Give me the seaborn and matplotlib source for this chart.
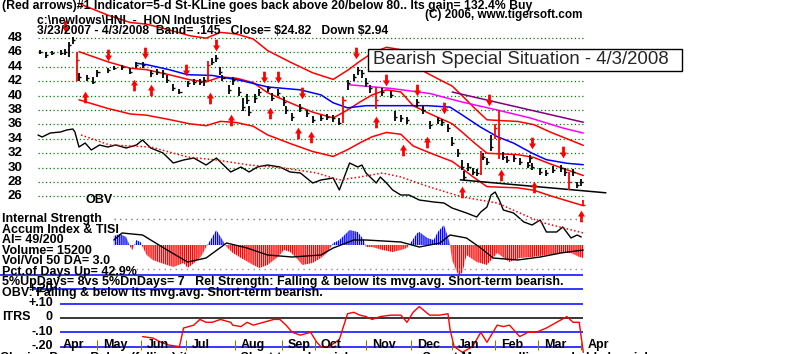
import numpy as np
import matplotlib
matplotlib.use("Agg")
import matplotlib.pyplot as plt
import seaborn as sns
from matplotlib.path import Path
from matplotlib.patches import Rectangle

sns.set_theme(style="white")
plt.rcParams["font.family"] = ["Liberation Sans", "DejaVu Sans"]
plt.rcParams["hatch.linewidth"] = 1.0

# ---- data (x = trading day since 3/23/2007) ----
price_day = [1, 4, 7, 11, 13, 15, 17, 19, 20, 24, 27, 29, 34, 37, 41, 45, 48, 51, 55, 58,
             61, 63, 66, 69, 73, 76, 79, 81, 83, 85, 87, 89, 90, 93, 95, 98, 100, 102, 103, 106,
             108, 112, 114, 117, 120, 121, 124, 128, 131, 134, 138, 141, 144, 147, 149, 151, 154, 156, 158, 160,
             162, 165, 168, 172, 174, 177, 180, 185, 188, 191, 195, 197, 200, 202, 205, 207, 208, 210, 212, 214,
             216, 217, 219, 221, 223, 225, 227, 229, 232, 235, 239, 240, 241, 245, 248, 251, 255, 257, 259, 261,
             263, 265, 266]
close = [46.1, 45.6, 45.9, 45.9, 46.1, 47.0, 47.7, 45.0, 42.6, 42.4, 41.9, 43.3, 43.6, 43.8, 44.0, 43.3, 44.3, 44.3, 43.1, 43.3,
         43.1, 42.2, 41.0, 40.5, 41.7, 41.9, 41.9, 42.2, 44.3, 44.7, 45.2, 43.3, 42.4, 40.8, 42.2, 40.5, 38.4, 39.4, 37.7, 39.7,
         40.5, 41.0, 39.7, 40.4, 39.1, 38.0, 37.0, 38.3, 37.6, 36.6, 36.9, 37.0, 36.9, 36.2, 39.4, 41.7, 42.6, 43.6, 43.1, 41.7,
         41.0, 39.4, 40.5, 40.1, 37.0, 36.9, 36.6, 39.1, 38.0, 35.9, 36.6, 36.3, 35.5, 33.4, 32.0, 30.1, 28.7, 30.1, 29.4, 29.2,
         31.7, 31.5, 30.8, 32.9, 35.5, 34.1, 31.5, 31.1, 31.3, 30.8, 30.4, 31.3, 30.1, 29.4, 29.2, 29.7, 29.9, 29.4, 28.0, 29.4,
         27.6, 28.0, 24.82]
high = [46.4, 46.0, 46.2, 46.3, 46.5, 47.4, 48.2, 46.0, 43.2, 42.8, 42.6, 43.6, 43.9, 44.1, 44.3, 43.8, 44.6, 44.6, 43.6, 43.7,
        43.5, 42.8, 41.6, 40.9, 42.0, 42.3, 42.3, 42.6, 44.8, 45.2, 45.6, 44.0, 42.9, 41.5, 42.6, 41.2, 39.6, 40.2, 38.5, 40.2,
        40.9, 41.4, 40.3, 40.9, 39.8, 38.6, 37.6, 38.8, 38.0, 37.1, 37.3, 37.4, 37.3, 36.9, 39.8, 42.2, 43.0, 44.0, 43.6, 42.4,
        41.5, 41.2, 41.0, 40.6, 37.8, 37.3, 37.0, 39.5, 38.6, 36.5, 37.0, 36.8, 36.1, 34.2, 32.6, 31.0, 29.5, 30.6, 30.0, 29.8,
        32.3, 32.0, 31.4, 34.5, 36.0, 38.0, 32.2, 31.6, 31.8, 31.3, 30.8, 31.8, 30.6, 29.9, 29.7, 30.2, 30.4, 29.9, 29.4, 29.8,
        28.0, 28.4, 25.5]
low = [45.8, 45.2, 45.6, 45.6, 45.6, 45.4, 47.2, 42.0, 42.0, 42.0, 41.6, 42.6, 43.2, 43.5, 43.6, 43.0, 43.9, 43.8, 42.6, 42.8,
       42.5, 41.8, 40.6, 40.2, 41.2, 41.5, 41.5, 41.4, 42.0, 44.2, 44.6, 42.8, 42.0, 40.2, 41.5, 40.0, 37.8, 38.8, 37.2, 39.0,
       40.0, 40.5, 39.2, 39.9, 38.5, 37.5, 36.5, 37.7, 37.0, 36.2, 36.5, 36.6, 36.4, 35.9, 36.2, 40.8, 42.0, 42.9, 42.5, 41.2,
       40.4, 38.2, 40.0, 39.6, 36.5, 36.4, 36.0, 38.4, 37.5, 35.4, 36.1, 35.8, 35.0, 33.0, 31.5, 29.6, 28.3, 29.5, 29.0, 28.8,
       29.0, 31.0, 30.3, 32.3, 34.0, 31.2, 31.0, 30.6, 30.8, 30.3, 30.0, 30.6, 29.7, 29.0, 28.8, 29.2, 29.4, 28.9, 26.9, 28.9,
       27.2, 27.5, 24.7]
signal_days = [19, 83, 149, 165, 216, 223, 225, 259, 266]

band_width = 0.145
ma21_day = [20, 34, 45, 53, 64, 74, 82, 89, 97, 105, 112, 123, 134, 144, 151, 157, 163, 170, 177,
            183, 191, 198, 202, 207, 213, 219, 226, 234, 242, 250, 258, 266]
ma21 = [46.1, 44.7, 43.8, 43.6, 42.9, 42.2, 41.9, 42.6, 42.4, 41.8, 40.4, 39.0, 37.7, 36.9, 38.0, 39.1, 40.1, 40.8, 40.5,
        38.6, 37.5, 36.6, 36.1, 34.9, 33.4, 32.0, 31.9, 31.8, 31.4, 30.5, 29.7, 28.9]

ma50_day = [48, 53, 64, 73, 85, 99, 112, 128, 138, 144, 151, 160, 177, 190, 201, 207, 216, 224, 232, 241, 248, 258, 266]
ma50 = [44.5, 44.3, 43.6, 42.9, 42.8, 42.1, 41.2, 40.8, 40.1, 39.0, 38.3, 38.6, 38.6, 38.6, 38.4, 37.3, 35.6, 34.3, 33.4,
        32.0, 31.1, 30.6, 30.4]
ma_mag_day = [152, 172, 191, 207, 224, 240, 256, 266]
ma_mag = [41.5, 41.0, 40.3, 39.1, 38.0, 36.9, 35.5, 34.8]
ma_purple_day = [202, 266]
ma_purple = [40.5, 36.3]
trend_day = [206, 277]
trend = [28.3, 26.5]

arrow_dn_day = [13, 34, 52, 72, 87, 110, 117, 129, 155, 170, 185, 198, 220, 241, 256]
arrow_dn = [49.7, 45.6, 45.9, 43.6, 47.0, 42.6, 42.6, 40.4, 45.9, 42.2, 40.8, 38.3, 39.4, 33.4, 32.2]
arrow_up_day = [23, 47, 55, 84, 94, 113, 127, 133, 165, 178, 190, 207, 226, 242, 265]
arrow_up = [39.8, 41.5, 40.8, 39.7, 36.6, 37.6, 34.8, 34.3, 36.3, 32.4, 33.6, 26.6, 29.0, 27.3, 23.3]

obv_day = [0, 2, 6, 11, 14, 17, 18, 20, 23, 26, 30, 34, 38, 43, 48, 51, 55, 61, 66, 71,
           76, 82, 87, 94, 99, 103, 107, 112, 118, 123, 128, 134, 138, 144, 147, 152, 156, 158, 160, 165,
           167, 170, 173, 177, 181, 186, 193, 198, 202, 209, 214, 216, 219, 221, 223, 225, 227, 232, 237, 241,
           245, 248, 253, 256, 260, 263, 265]
obv = [11.0, 10.8, 11.2, 11.3, 11.5, 11.6, 11.3, 9.8, 10.2, 9.5, 10.0, 9.8, 10.0, 9.7, 10.0, 10.5, 9.7, 9.2, 8.2, 8.5,
       8.7, 8.0, 8.7, 7.3, 7.8, 7.3, 7.8, 8.0, 7.8, 7.3, 7.2, 6.2, 6.5, 6.7, 5.5, 8.2, 7.8, 8.0, 7.2, 6.2,
       6.8, 6.2, 5.5, 5.0, 5.0, 4.5, 4.3, 4.2, 3.7, 3.2, 2.8, 3.3, 3.8, 5.0, 5.3, 4.5, 3.5, 3.2, 2.3, 2.0,
       2.5, 1.3, 1.3, 1.8, 0.7, 1.0, 0.8]
obv_ma_day = [21, 35, 55, 73, 87, 103, 120, 136, 147, 157, 168, 177, 191, 207, 224, 245, 266]
obv_ma = [11.0, 10.0, 9.8, 8.8, 8.5, 8.0, 7.7, 7.2, 6.5, 6.8, 7.2, 6.8, 5.8, 4.8, 4.2, 2.3, 1.2]

ai_day = [37, 40, 43, 45, 46, 48, 50, 51, 53, 56, 60, 63, 66, 71, 73, 78, 80, 82, 85, 87,
          90, 92, 95, 99, 105, 108, 112, 117, 120, 123, 126, 129, 134, 138, 141, 144, 147, 151, 152, 156,
          159, 160, 163, 168, 173, 177, 180, 181, 185, 186, 190, 193, 195, 198, 200, 201, 202, 205, 207, 209,
          214, 219, 224, 230, 235, 241, 248, 255, 260, 264, 266]
ai = [0.09, 0.11, 0.08, -0.02, -0.05, 0.05, 0.03, -0.02, -0.10, -0.15, -0.18, -0.20, -0.22, -0.18, -0.23, -0.15, -0.10, -0.02, 0.08, 0.15,
      0.05, -0.02, -0.08, -0.13, -0.20, -0.23, -0.20, -0.12, -0.05, -0.07, -0.13, -0.20, -0.18, -0.13, -0.08, 0.02, 0.05, 0.13, 0.15, 0.13,
      0.05, -0.02, -0.02, -0.05, -0.07, -0.05, -0.03, 0.0, 0.12, 0.13, 0.07, 0.05, 0.13, 0.20, 0.08, 0.0, -0.15, -0.30, -0.28, -0.10,
      -0.17, -0.20, -0.08, -0.17, -0.13, -0.12, -0.10, -0.08, -0.08, -0.12, -0.13]
tisi_day = [37, 41, 51, 63, 73, 82, 92, 102, 112, 124, 138, 144, 154, 160, 177, 186, 196, 201, 209, 216, 222, 234, 245, 255, 266]
tisi = [0.05, 0.12, 0.10, -0.05, -0.17, -0.13, 0.02, -0.03, -0.10, -0.12, -0.10, -0.03, 0.05, 0.05, 0.03, -0.02, 0.02, 0.10,
        0.07, -0.03, -0.13, -0.15, -0.12, -0.08, -0.05]

itrs_day = [51, 56, 60, 64, 69, 71, 76, 79, 82, 85, 89, 94, 95, 99, 102, 105, 110, 115, 118, 121,
            124, 128, 133, 136, 138, 142, 147, 151, 154, 157, 160, 163, 167, 172, 177, 180, 183, 186, 191, 196,
            200, 201, 203, 207, 212, 216, 219, 224, 227, 230, 235, 239, 243, 248, 253, 258, 261, 264, 266]
itrs = [-0.13, -0.14, -0.17, -0.19, -0.20, -0.07, -0.05, -0.01, -0.03, -0.03, -0.01, -0.03, -0.05, -0.06, -0.03, -0.05, -0.03, -0.01, -0.01, -0.05,
        -0.10, -0.12, -0.10, -0.17, -0.20, -0.20, -0.15, 0.03, 0.04, 0.02, 0.01, -0.01, 0.01, 0.02, 0.02, -0.03, 0.04, 0.08, 0.02, 0.02,
        0.03, -0.08, -0.20, -0.24, -0.20, -0.10, -0.17, -0.05, -0.06, -0.05, -0.13, -0.10, -0.10, -0.07, -0.03, 0.01, -0.03, -0.03, -0.24]

month_names = ["Apr", "May", "Jun", "Jul", "Aug", "Sep", "Oct", "Nov", "Dec", "Jan", "Feb", "Mar", "Apr"]
month_day = [9, 29, 50, 72, 96, 119, 135, 160, 182, 202, 223, 244, 265]
price_levels = [26, 28, 30, 32, 34, 36, 38, 40, 42, 44, 46, 48]
itrs_levels = [0.3, 0.2, 0.1, 0.0, -0.1, -0.2]

# ---- layout (pixels of the 800x354 canvas) ----
W, H = 800, 354
LEFT_PX, PX_DAY = 38, 2.05
X0, X1 = -LEFT_PX / PX_DAY, (W - LEFT_PX) / PX_DAY
BOLD = dict(weight="bold", color="black")

fig = plt.figure(figsize=(W / 100, H / 100), dpi=100)
fig.patch.set_facecolor("white")


def strip(top, bottom):
    ax = fig.add_axes([0, 1 - bottom / H, 1, (bottom - top) / H])
    ax.set_xlim(X0, X1)
    ax.axis("off")
    ax.patch.set_alpha(0)
    return ax


def ftext(x, y, s, size=8.5, **kw):
    kw.setdefault("va", "center")
    fig.text(x / W, 1 - y / H, s, fontsize=size, **{**BOLD, **kw})


# price panel: 48 at y=38px, 7.2 px per dollar
ax = strip(0, 245)
ax.set_ylim(48 - (245 - 38) / 7.2, 48 + 38 / 7.2)
ax.hlines(price_levels, 0, 266, colors="#008000", linestyles=(0, (1, 2)), lw=0.9)
for lv in price_levels:
    ax.text(-14.8, lv, str(lv), fontsize=9.5, ha="left", va="center", **BOLD)

ma21_arr = np.array(ma21)
lines = [(ma21_day, ma21_arr * (1 + band_width), "red"), (ma21_day, ma21_arr, "red"),
         (ma21_day, ma21_arr * (1 - band_width), "red"), (ma50_day, ma50, "blue"),
         (ma_mag_day, ma_mag, "#ff00ff"), (ma_purple_day, ma_purple, "#800080"), (trend_day, trend, "black")]
for xs, ys, c in lines:
    sns.lineplot(x=xs, y=ys, ax=ax, color=c, lw=1.1, estimator=None, sort=False, legend=False)

bar_col = ["red" if d in signal_days else "black" for d in price_day]
ax.vlines(price_day, low, high, colors=bar_col, lw=1.3, zorder=4)
ax.hlines(close, np.array(price_day), np.array(price_day) + 1.0, colors=bar_col, lw=1.0, zorder=4)

down = Path([(-0.12, 0.5), (0.12, 0.5), (0.12, 0.0), (0.3, 0.0), (0.0, -0.5), (-0.3, 0.0), (-0.12, 0.0), (-0.12, 0.5)],
            [Path.MOVETO] + [Path.LINETO] * 6 + [Path.CLOSEPOLY])
up = Path(down.vertices * [1, -1], down.codes)
ax.scatter(arrow_dn_day, arrow_dn, marker=down, s=70, c="red", lw=0, zorder=5)
ax.scatter(arrow_up_day, arrow_up, marker=up, s=70, c="red", lw=0, zorder=5)

# OBV overlaid on the lower part of the price panel
ax_obv = ax.twinx()
ax_obv.set_xlim(X0, X1)
ax_obv.set_ylim(0, 24.5)
ax_obv.axis("off")
sns.lineplot(x=obv_day, y=obv, ax=ax_obv, color="black", lw=1.0, estimator=None, sort=False, legend=False)
sns.lineplot(x=obv_ma_day, y=obv_ma, ax=ax_obv, color="red", lw=1.1, ls=(0, (1, 1.5)), estimator=None, sort=False, legend=False)

# accumulation index panel
ax_ai = strip(215, 280)
ax_ai.set_ylim(-0.35, 0.30)
ai_d, ai_v = np.array(ai_day), np.array(ai)
ax_ai.fill_between(ai_d, 0, ai_v, where=ai_v >= 0, interpolate=True, facecolor="none", edgecolor="blue", hatch="|" * 8, lw=0)
ax_ai.fill_between(ai_d, 0, ai_v, where=ai_v <= 0, interpolate=True, facecolor="none", edgecolor="red", hatch="|" * 8, lw=0)
sns.lineplot(x=tisi_day, y=tisi, ax=ax_ai, color="black", lw=1.0, estimator=None, sort=False, legend=False)
ax_ai.hlines([0.26], 37, 266, colors="#777777", linestyles=(0, (1, 3)), lw=1)
ax_ai.hlines([-0.24], 37, 266, colors="#b08080", linestyles=(0, (1, 3)), lw=1)

# ITRS panel: 0 at y=318px, 143 px per unit
ax_it = strip(268, 354)
ax_it.set_ylim((318 - 354) / 143, (318 - 268) / 143)
starts = [X0, -2.4, 10.7, 10.7, 10.7, 10.7]
for lv, st in zip(itrs_levels, starts):
    ax_it.hlines(lv, st, 266, colors="black" if lv == 0 else "blue", lw=1.1)
sns.lineplot(x=itrs_day, y=itrs, ax=ax_it, color="red", lw=1.0, estimator=None, sort=False, legend=False)
for lv, lab in zip([0.2, 0.1, 0.0, -0.1, -0.2], ["+.20", "+.10", "0", "-.10", "-.20"]):
    ax_it.text(7.3, lv + 0.005, lab, ha="right", va="center", fontsize=9, **BOLD)
ax_it.vlines(month_day[1:], -0.224, -0.154, colors="#808000", lw=0.8)
for d, name in zip(month_day, month_names):
    ax_it.text(d + 3, -0.19, name, ha="left", va="center", fontsize=9, **BOLD)

# header and side texts
ftext(2, 5.5, "(Red arrows)#1 Indicator=5-d St-KLine goes back above 20/below 80.. Its gain= 132.4% Buy", size=8.8)
ftext(37, 20.5, r"c:\newlows\HNI  -  HON Industries", size=8.7)
ftext(425, 15, "(C) 2006, www.tigersoft.com")
ftext(37, 31, r"3/23/2007 - 4/3/2008  Band= .145   Close= \$24.82   Down \$2.94", size=8.7)
ftext(85, 200, "OBV", size=9)
side = ["Internal Strength", "Accum Index & TISI", "AI= 49/200", "Volume= 15200", "Vol/Vol 50 DA= 3.0",
        "Pct.of Days Up= 42.9%",
        "5%UpDays= 8vs 5%DnDays= 7   Rel Strength: Falling & below its mvg.avg. Short-term bearish.",
        "OBV: Falling & below its mvg.avg. Short-term bearish."]
for i, s in enumerate(side):
    ftext(2, 219 + i * 10.55, s, size=9)
ftext(2, 317, "ITRS", size=9)
ftext(0, 351.5, "Closing Power Below (falling) its ma.      Short-term bearish pressure.   Smart Money selling, probable bearish.",
      size=9, va="top")

fig.add_artist(Rectangle((368 / W, 1 - 71 / H), 314 / W, 22 / H, transform=fig.transFigure,
                         facecolor="white", edgecolor="black", lw=1, zorder=5))
fig.text(373 / W, 1 - 60 / H, "Bearish Special Situation - 4/3/2008", fontsize=13.4, va="center", zorder=6)

fig.savefig("out.png", dpi=100)
